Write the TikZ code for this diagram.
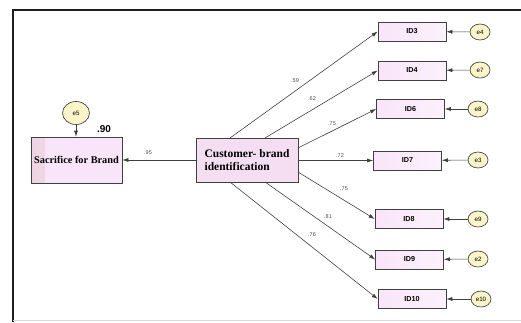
\documentclass[tikz,border=0pt]{standalone}
\usepackage{fontspec}
\setmainfont{Liberation Serif}
\setsansfont{Liberation Sans}
\usetikzlibrary{arrows.meta,shapes.geometric}
\definecolor{boxfill}{RGB}{249,229,249}
\definecolor{boxedge}{RGB}{238,212,226}
\definecolor{cbifill}{RGB}{245,222,242}
\definecolor{errfill}{RGB}{250,244,200}
\definecolor{framec}{RGB}{30,30,30}
\tikzset{
  x=1pt, y=-1pt,
  latent/.style={draw=black!75, line width=0.6pt, fill=boxfill, inner sep=0pt, font=\bfseries},
  indbox/.style={draw=black!75, line width=0.6pt, left color=boxfill, right color=boxfill!55, minimum width=68pt, minimum height=19pt, inner sep=0pt, font=\sffamily\bfseries\fontsize{7.2}{8}\selectfont},
  errc/.style={draw=black!80, line width=0.6pt, fill=errfill, ellipse, inner sep=0pt, minimum width=20pt, minimum height=16pt, font=\sffamily\fontsize{6.2}{7}\selectfont},
  path/.style={draw=black!75, line width=0.6pt, -{Latex[length=6pt,width=4pt]}},
  coef/.style={font=\sffamily\fontsize{5.5}{6}\selectfont, text=black!70, inner sep=0pt},
}
\begin{document}
\begin{tikzpicture}
\useasboundingbox (0,0) rectangle (521,322);
% frame
\draw[framec, line width=2.8pt] (13,322) -- (13,10) -- (521,10);
\draw[black!15, line width=0.6pt] (13,320.5) -- (521,320.5);

% latent boxes
\node[latent, minimum width=91pt, minimum height=46pt, font=\bfseries\fontsize{10.3}{12}\selectfont,
  path picture={\shade[left color=boxedge, right color=boxfill] (path picture bounding box.north west) rectangle ([xshift=14pt]path picture bounding box.south west);}] (sac) at (76.5,160) {Sacrifice for Brand};
\node[latent, fill=cbifill, minimum width=102pt, minimum height=44pt, align=left, font=\bfseries\fontsize{11.5}{13.5}\selectfont] (cbi) at (247,160) {Customer- brand\\identification};

% e5
\node[errc, minimum width=27pt, minimum height=23pt] (e5) at (76,113) {e5};
\draw[path] (e5) -- (sac.north -| e5);
\node[font=\sffamily\bfseries\fontsize{10}{11}\selectfont, inner sep=0pt] (r2) at (104,129) {.90};

% path to sacrifice
\draw[path] (cbi.west) -- (sac.east);
\node[coef] (c95) at (148,153) {.95};

% indicators
\node[indbox] (id3) at (412,31.5) {ID3};
\node[indbox] (id4) at (412,70.5) {ID4};
\node[indbox] (id6) at (410.5,109) {ID6};
\node[indbox] (id7) at (407.5,160.5) {ID7};
\node[indbox] (id8) at (409,219) {ID8};
\node[indbox] (id9) at (409.5,259.5) {ID9};
\node[indbox] (id10) at (412,299) {ID10};

\node[errc] (e4) at (480,32) {e4};
\node[errc] (e7) at (480,70) {e7};
\node[errc] (e8) at (478,109) {e8};
\node[errc] (e3) at (478,160) {e3};
\node[errc] (e9) at (478,219) {e9};
\node[errc] (e2) at (478,259) {e2};
\node[errc] (e10) at (481,299) {e10};

\foreach \e/\i in {e4/id3,e7/id4,e8/id6,e3/id7,e9/id8,e2/id9,e10/id10}
  \draw[path] (\e) -- (\i);

% loadings
\coordinate (s3) at (230,138);
\coordinate (s4) at (265,138);
\coordinate (s6) at (298,148);
\coordinate (s7) at (298,160.5);
\coordinate (s8) at (298,172);
\coordinate (s9) at (265,182);
\coordinate (s10) at (230,182);
\draw[path] (s3) -- (id3.west);
\draw[path] (s4) -- (id4.west);
\draw[path] (s6) -- (id6.west);
\draw[path] (s7) -- (id7.west);
\draw[path] (s8) -- (id8.west);
\draw[path] (s9) -- (id9.west);
\draw[path] (s10) -- (id10.west);

\node[coef] (l3) at (295,81) {.59};
\node[coef] (l4) at (312,99) {.62};
\node[coef] (l6) at (332,124) {.75};
\node[coef] (l7) at (340,156) {.72};
\node[coef] (l8) at (344,189) {.75};
\node[coef] (l9) at (328,217) {.81};
\node[coef] (l10) at (312,235) {.76};
\end{tikzpicture}
\end{document}
